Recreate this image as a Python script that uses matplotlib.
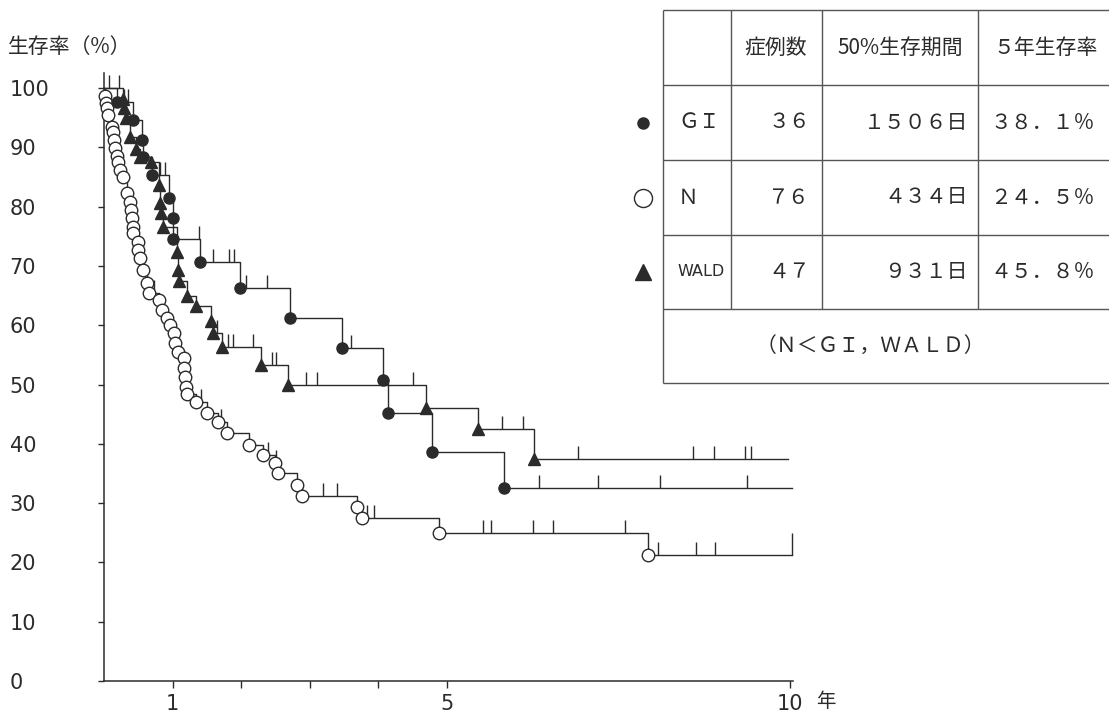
import numpy as np
import matplotlib.pyplot as plt
from matplotlib.font_manager import FontProperties

plt.rcParams['font.family'] = ['Noto Sans CJK JP', 'DejaVu Sans']

W, H = 1109, 718
INK = '#2b2b2b'

# survival curves: event times (years) and survival (%) just after each event
gi_t = [0.19, 0.42, 0.55, 0.57, 0.70, 0.95, 1.00, 1.01, 1.40, 1.98, 2.71, 3.47, 4.07, 4.14, 4.78, 5.83]
gi_s = [97.6, 94.6, 91.2, 88.4, 85.3, 81.5, 78.1, 74.5, 70.7, 66.3, 61.2, 56.2, 50.8, 45.2, 38.6, 32.5]
gi_cens = [0.07, 0.29, 0.35, 0.81, 0.89, 1.38, 1.59, 1.82, 1.90, 2.07, 2.38, 3.60, 6.34, 7.20, 8.10, 9.37]
gi_end = 10.03

wald_t = [0.28, 0.29, 0.32, 0.38, 0.47, 0.52, 0.69, 0.80, 0.81, 0.83, 0.86, 1.06, 1.08, 1.09,
          1.21, 1.34, 1.56, 1.59, 1.72, 2.29, 2.68, 4.69, 5.45, 6.27]
wald_s = [98.1, 96.6, 94.9, 91.7, 89.7, 88.4, 87.5, 83.6, 80.6, 78.9, 76.6, 72.3, 69.3, 67.5,
          64.9, 63.2, 60.7, 58.7, 56.3, 53.3, 49.9, 46.0, 42.5, 37.4]
wald_cens = [0.22, 1.65, 1.81, 1.88, 2.17, 2.45, 2.51, 2.94, 3.10, 4.50, 5.80, 6.11, 6.91, 8.59, 8.89, 9.34, 9.43]
wald_end = 9.97

n_t = [0.01, 0.03, 0.04, 0.06, 0.12, 0.13, 0.14, 0.16, 0.19, 0.20, 0.23, 0.28, 0.34, 0.38, 0.39,
       0.41, 0.42, 0.43, 0.49, 0.50, 0.52, 0.57, 0.63, 0.66, 0.80, 0.85, 0.92, 0.96, 1.02, 1.03,
       1.08, 1.16, 1.17, 1.18, 1.19, 1.21, 1.34, 1.50, 1.66, 1.79, 2.11, 2.32, 2.49, 2.54, 2.81,
       2.89, 3.69, 3.76, 4.88, 7.93]
n_s = [98.7, 97.5, 96.6, 95.4, 93.4, 92.6, 91.2, 89.9, 88.5, 87.5, 86.2, 85.0, 82.3, 80.8, 79.4,
       78.1, 76.6, 75.5, 74.0, 72.7, 71.3, 69.3, 67.1, 65.4, 64.2, 62.6, 61.2, 60.0, 58.7, 57.0,
       55.5, 54.5, 52.8, 51.3, 49.6, 48.4, 47.0, 45.2, 43.7, 41.8, 39.8, 38.1, 36.8, 35.1, 33.1,
       31.2, 29.3, 27.5, 25.0, 21.2]
n_cens = [0.73, 1.41, 1.71, 2.39, 2.51, 3.19, 3.40, 3.83, 3.94, 5.52, 5.64, 6.25, 6.55, 7.59,
          8.08, 8.63, 8.91]
n_end = 10.03

# table
groups = ['ＧＩ', 'Ｎ', 'WALD']
cases = [36, 76, 47]
median_days = [1506, 434, 931]
five_year = [38.1, 24.5, 45.8]
headers = ['症例数', '50%生存期間', '５年生存率']
footnote = '（Ｎ＜ＧＩ，ＷＡＬＤ）'

FW = str.maketrans('0123456789.%', '０１２３４５６７８９．％')


def fw(s):
    return str(s).translate(FW)


def level_at(t, times, surv):
    idx = np.searchsorted(times, t, side='right') - 1
    lv = np.asarray(surv)[np.clip(idx, 0, None)]
    return np.where(idx < 0, 100.0, lv)


def draw_curve(ax, times, surv, t_end, cens, marker, ms, face):
    x = np.r_[0, times, t_end]
    y = np.r_[100, surv, surv[-1]]
    ax.step(x, y, where='post', color=INK, lw=1.0, zorder=2, clip_on=False)
    ax.plot(times, surv, ls='none', marker=marker, ms=ms, mfc=face, mec=INK,
            mew=1.0, zorder=3, clip_on=False)
    c = np.asarray(cens)
    lv = level_at(c, times, surv)
    ax.vlines(c, lv, lv + 2.2, color=INK, lw=1.0, zorder=2, clip_on=False)


num_fp = FontProperties(family='DejaVu Sans', size=15)

fig = plt.figure(figsize=(W / 100, H / 100), dpi=100)
ax = fig.add_axes([104 / W, (H - 681) / H, (793.4 - 104) / W, (681 - 73.2) / H])
ax.set_xlim(0, 10.05)
ax.set_ylim(0, 102.5)
for s in ['top', 'right']:
    ax.spines[s].set_visible(False)
for s in ['left', 'bottom']:
    ax.spines[s].set_color(INK)
    ax.spines[s].set_linewidth(1.1)

draw_curve(ax, n_t, n_s, n_end, n_cens, 'o', 9, 'white')
draw_curve(ax, wald_t, wald_s, wald_end, wald_cens, '^', 8, INK)
draw_curve(ax, gi_t, gi_s, gi_end, gi_cens, 'o', 8, INK)
ax.vlines([n_end], n_s[-1], n_s[-1] + 3.7, color=INK, lw=1.0, clip_on=False)

ax.set_yticks(np.arange(0, 101, 10))
ax.set_yticklabels([str(v) for v in range(0, 101, 10)])
ax.tick_params(axis='y', direction='out', length=4, width=1, color=INK, pad=64)
for lbl in ax.get_yticklabels():
    lbl.set_ha('left')
    lbl.set_fontproperties(num_fp)
    lbl.set_color(INK)

ax.set_xticks([1, 2, 3, 4, 5, 10])
ax.set_xticklabels(['1', '', '', '', '5', '10'])
ax.tick_params(axis='x', direction='out', length=5, width=1, color=INK, pad=4)
for lbl in ax.get_xticklabels():
    lbl.set_fontproperties(num_fp)
    lbl.set_color(INK)
ax.annotate('年', xy=(10, 0), xycoords=('data', 'axes fraction'), xytext=(26, -15),
            textcoords='offset points', ha='center', va='center', fontsize=14, color=INK)

fig.text(8 / W, 1 - 47 / H, '生存率（%）', fontsize=15, va='center', ha='left', color=INK)

# table overlay in pixel coordinates
tab = fig.add_axes([0, 0, 1, 1], zorder=5)
tab.set_xlim(0, W)
tab.set_ylim(H, 0)
tab.axis('off')
tab.patch.set_alpha(0)

cols = [663, 731, 822, 978]
rows = [10, 85, 160, 235, 309, 383]
for y in rows:
    tab.hlines(y, cols[0], W, color='#555555', lw=1.0)
tab.vlines(cols[0], rows[0], rows[-1], color='#555555', lw=1.0)
for x in cols[1:]:
    tab.vlines(x, rows[0], rows[4], color='#555555', lw=1.0)

hy = (rows[0] + rows[1]) / 2
tab.text(776, hy, headers[0], ha='center', va='center', fontsize=15, color=INK)
tab.text(900, hy, headers[1], ha='center', va='center', fontsize=15, color=INK)
tab.text(1046, hy, headers[2], ha='center', va='center', fontsize=15, color=INK)

mk = [('o', 8, INK), ('o', 13, 'white'), ('^', 11, INK)]
for i, g in enumerate(groups):
    y = (rows[i + 1] + rows[i + 2]) / 2
    m, ms, fc = mk[i]
    tab.plot([643], [y], marker=m, ms=ms, mfc=fc, mec=INK, mew=1.0, ls='none')
    if g == 'WALD':
        tab.text(677, y, g, ha='left', va='center', fontproperties=FontProperties(
            family='DejaVu Sans', size=11.5), color=INK)
    else:
        tab.text(678, y, g, ha='left', va='center', fontsize=15, color=INK)
    tab.text(810, y, fw(cases[i]), ha='right', va='center', fontsize=15, color=INK)
    tab.text(968, y, fw(median_days[i]) + '日', ha='right', va='center', fontsize=15, color=INK)
    tab.text(990, y, fw(f'{five_year[i]:.1f}%'), ha='left', va='center', fontsize=15, color=INK)

tab.text(870, (rows[4] + rows[5]) / 2, footnote, ha='center', va='center', fontsize=15, color=INK)

fig.savefig('out.png', dpi=100, facecolor='white')
